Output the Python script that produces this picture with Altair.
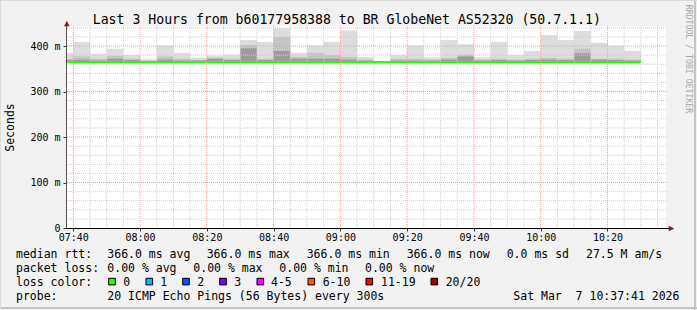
import altair as alt
import pandas as pd

MONO = "DejaVu Sans Mono"

TITLE = "Last 3 Hours from b60177958388 to BR GlobeNet AS52320 (50.7.1.1)"

# 5-minute steps (start of each step)
col_start = ["07:35", "07:40", "07:45", "07:50", "07:55", "08:00", "08:05", "08:10",
             "08:15", "08:20", "08:25", "08:30", "08:35", "08:40", "08:45", "08:50",
             "08:55", "09:00", "09:05", "09:10", "09:15", "09:20", "09:25", "09:30",
             "09:35", "09:40", "09:45", "09:50", "09:55", "10:00", "10:05", "10:10",
             "10:15", "10:20", "10:25"]
# smoke (ms)
smoke_min = [365, 365, 365, 365, 365, 365, 365, 365, 365, 365, 365, 365, 365, 365, 365, 365, 365, 365,
             365, 365, 365, 365, 365, 365, 365, 365, 365, 365, 365, 365, 365, 365, 365, 365, 365]
smoke_max = [384, 409, 383, 394, 380, 371, 401, 385, 374, 379, 381, 413, 409, 439, 385, 401, 409, 434,
             376, 367, 380, 401, 375, 413, 404, 375, 409, 380, 389, 424, 413, 433, 407, 400, 389]
smoke_mid = [372, 377, 372, 378, 372, 368, 377, 372, 370, 374, 372, 402, 372, 420, 376, 385, 380, 376,
             370, 366, 372, 372, 370, 374, 381, 370, 372, 370, 372, 374, 372, 394, 372, 372, 370]
smoke_dark = [369, 370, 368, 372, 369, 367, 370, 368, 368, 372, 369, 395, 369, 389, 372, 372, 372, 370,
              368, 366, 368, 368, 368, 370, 377, 368, 369, 368, 369, 370, 369, 384, 370, 369, 368]
median_rtt = [366.0, 366.0, 366.0, 366.0, 366.0, 366.0, 366.0, 366.0, 366.0, 366.0, 366.0, 366.0,
              366.0, 366.0, 366.0, 366.0, 366.0, 366.0, 366.0, 366.0, 366.0, 366.0, 366.0, 366.0,
              366.0, 366.0, 366.0, 366.0, 366.0, 366.0, 366.0, 366.0, 366.0, 366.0, 366.0]

x_major = ["07:40", "08:00", "08:20", "08:40", "09:00", "09:20", "09:40", "10:00", "10:20"]
y_major = [0, 100, 200, 300, 400]

loss_labels = ["0", "1", "2", "3", "4-5", "6-10", "11-19", "20/20"]
loss_colors = ["#26ff00", "#00b8ff", "#0059ff", "#7e00ff", "#ff00ff", "#ff5500", "#ff0000", "#a00000"]


def to_min(s):
    h, m = s.split(":")
    return int(h) * 60 + int(m)


df = pd.DataFrame({
    "t0": [to_min(s) for s in col_start],
    "smin": smoke_min,
    "smax": smoke_max,
    "smid": smoke_mid,
    "sdark": smoke_dark,
    "med": median_rtt,
})
df["t1"] = df["t0"] + 5

major_min = [to_min(s) for s in x_major]
minor_x = [m for m in range(to_min("07:40"), to_min("10:35") + 1, 5) if m not in major_min]
minor_y = [v for v in range(20, 441, 20) if v % 100 != 0]

W, H = 600, 202
LEFT, TOP = 66, 26
X0 = 457.814
X1 = X0 + 600 / 3.3386
xs = alt.Scale(domain=[X0, X1], nice=False, zero=False)
ys = alt.Scale(domain=[0, 444], nice=False, zero=False)

hhmm = "format(floor(datum.value/60),'02d') + ':' + format(datum.value%60,'02d')"

xaxis = alt.Axis(values=major_min, labelExpr=hhmm, grid=False, domain=False, ticks=True,
                 tickSize=3, tickColor="#333333", labelFont=MONO, labelFontSize=10,
                 labelColor="#000000", labelPadding=1.5, title=None, labelFlush=False,
                 labelOverlap=False)
yaxis = alt.Axis(values=y_major,
                 labelExpr="datum.value == 0 ? '0\u00a0\u00a0' : datum.value + ' m'",
                 grid=False, domain=False, ticks=True, tickSize=3, tickColor="#333333",
                 labelFont=MONO, labelFontSize=10, labelColor="#000000", labelPadding=3,
                 title=None, labelFlush=False, labelOverlap=False)


def X(field):
    return alt.X(field, scale=xs, axis=xaxis, title=None)


def Y(field):
    return alt.Y(field, scale=ys, axis=yaxis, title=None)


base = alt.Chart(df)


def smoke(field, color):
    return base.mark_rect(color=color, clip=True).encode(
        x=X("t0:Q"), x2="t1:Q", y=Y("smin:Q"), y2=f"{field}:Q")


layers = [
    smoke("smax", "#dddddd"),
    smoke("smid", "#c4c4c4"),
    smoke("sdark", "#9c9c9c"),
]

# grid
GRID = "#cfcfcf"
MGRID = "#ee9f9f"
layers.append(alt.Chart(pd.DataFrame({"g": minor_x})).mark_rule(
    color=GRID, strokeDash=[1, 1], strokeWidth=1).encode(x=X("g:Q")))
layers.append(alt.Chart(pd.DataFrame({"g": minor_y})).mark_rule(
    color=GRID, strokeDash=[1, 1], strokeWidth=1).encode(y=Y("g:Q")))
layers.append(alt.Chart(pd.DataFrame({"g": major_min})).mark_rule(
    color=MGRID, strokeDash=[1, 1], strokeWidth=1).encode(x=X("g:Q")))
layers.append(alt.Chart(pd.DataFrame({"g": y_major[1:]})).mark_rule(
    color=MGRID, strokeDash=[1, 1], strokeWidth=1).encode(y=Y("g:Q")))

# median line
layers.append(base.mark_rule(color="#26ff00", strokeWidth=2, clip=True, yOffset=0.5).encode(
    x=X("t0:Q"), x2="t1:Q", y=Y("med:Q")))

one = pd.DataFrame({"a": [0]})
# axis lines
layers.append(alt.Chart(one).mark_rule(color="#555555", strokeWidth=1).encode(
    x=alt.value(0.5), y=alt.value(-4), y2=alt.value(H)))
layers.append(alt.Chart(one).mark_rule(color="#000000", strokeWidth=1).encode(
    x=alt.value(0), x2=alt.value(W + 3), y=alt.value(H + 0.5)))
# arrows
layers.append(alt.Chart(one).mark_point(
    shape="M-1,1L0,-1L1,1Z", filled=True, color="#8b1a1a", size=30, opacity=1).encode(
    x=alt.value(0.8), y=alt.value(-2.5)))
layers.append(alt.Chart(one).mark_point(
    shape="M-1,-1L1,0L-1,1Z", filled=True, color="#8b1a1a", size=30, opacity=1).encode(
    x=alt.value(W + 5.5), y=alt.value(H + 0.5)))


def txt_layer(items, size, color="#000000", angle=0, align="left", baseline="alphabetic"):
    d = pd.DataFrame(items, columns=["text", "px", "py"])
    d["px"] = d["px"] - LEFT
    d["py"] = d["py"] - TOP
    return alt.Chart(d).mark_text(font=MONO, fontSize=size, color=color, angle=angle,
                                  align=align, baseline=baseline).encode(
        x=alt.X("px:Q", scale=None, axis=None), y=alt.Y("py:Q", scale=None, axis=None),
        text="text:N")


NB = "\u00a0"
layers.append(txt_layer([(TITLE, 92.7, 24)], 13.2))
rows = [
    ("median rtt:", 16, 258.3), ("366.0 ms avg", 107.3, 258.3), ("366.0 ms max", 206.7, 258.3),
    ("366.0 ms min", 306.7, 258.3), ("366.0 ms now", 406.7, 258.3), ("0.0 ms sd", 506.7, 258.3),
    ("27.5 M am/s", 586, 258.3),
    ("packet loss:", 16, 272.2), ("0.00 % avg", 107.3, 272.2), ("0.00 % max", 193.3, 272.2),
    ("0.00 % min", 279.3, 272.2), ("0.00 % now", 365, 272.2),
    ("loss color:", 16, 286.1),
    ("probe:", 16, 300), ("20 ICMP Echo Pings (56 Bytes) every 300s", 107.3, 300),
    ("Sat Mar" + NB + NB + "7 10:37:41 2026", 513.3, 300),
]
label_x = [123.3, 160.3, 197.3, 234.3, 271, 322.7, 381, 445.7]
for lab, lx in zip(loss_labels, label_x):
    rows.append((lab, lx, 286.1))
layers.append(txt_layer(rows, 11.5))

# loss color boxes
box_x = [112, 149.3, 186, 223, 260.3, 311.3, 369.3, 434.3]
bd = pd.DataFrame({"px": [b - LEFT for b in box_x], "py": [281.6 - TOP] * len(box_x),
                   "c": loss_colors})
layers.append(alt.Chart(bd).mark_square(size=44, stroke="#000000", strokeWidth=1, opacity=1).encode(
    x=alt.X("px:Q", scale=None, axis=None), y=alt.Y("py:Q", scale=None, axis=None),
    fill=alt.Fill("c:N", scale=None)))

# y title
layers.append(txt_layer([("Seconds", 14, 127.5)], 11.5, angle=270, align="center"))
# watermark
layers.append(txt_layer([("RRDTOOL / TOBI OETIKER", 686, 59)], 8.2, color="#a8a8a8", angle=90,
                        align="center"))

# frame
layers.append(alt.Chart(one).mark_rule(color="#c4c4c4", strokeWidth=2).encode(
    x=alt.value(695 - LEFT), y=alt.value(-TOP), y2=alt.value(310 - TOP)))
layers.append(alt.Chart(one).mark_rule(color="#c4c4c4", strokeWidth=2).encode(
    x=alt.value(-LEFT), x2=alt.value(697 - LEFT), y=alt.value(308 - TOP)))
layers.append(alt.Chart(one).mark_rule(color="#dcdcdc", strokeWidth=1).encode(
    x=alt.value(-LEFT), x2=alt.value(697 - LEFT), y=alt.value(0.5 - TOP)))
layers.append(alt.Chart(one).mark_rule(color="#dcdcdc", strokeWidth=1).encode(
    x=alt.value(0.5 - LEFT), y=alt.value(-TOP), y2=alt.value(310 - TOP)))

chart = alt.layer(*layers).properties(
    width=W, height=H,
    autosize=alt.AutoSizeParams(type="none"),
    padding={"left": LEFT, "top": TOP, "right": 697 - LEFT - W, "bottom": 310 - TOP - H},
    background="#f2f2f2",
).configure_view(fill="#ffffff", stroke=None)

chart.save("out.html", embed_options={"renderer": "svg", "actions": False})
